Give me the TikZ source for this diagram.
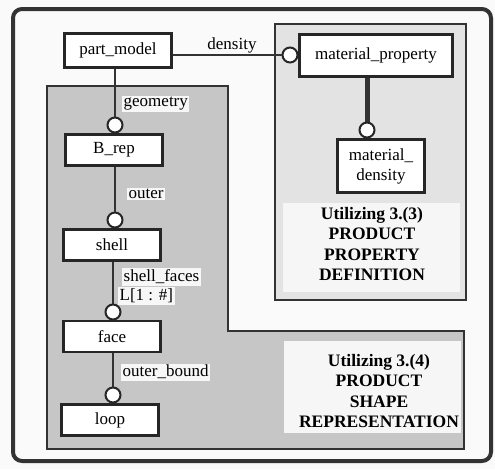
\documentclass[tikz,border=0pt]{standalone}
\usepackage{fontspec}
\setmainfont{Liberation Serif}

\tikzset{
  entity/.style={draw=black!85, line width=2.8pt, fill=white, minimum width=97pt,
                 minimum height=31pt, inner sep=0pt, font=\fontsize{17}{20}\selectfont},
  ring/.style={circle, draw=black!85, line width=2pt, fill=white, minimum size=15pt, inner sep=0pt},
  link/.style={draw=black!80, line width=2pt},
  role/.style={fill=gray!6, inner sep=1.5pt, anchor=west, font=\fontsize{17}{20}\selectfont},
  title/.style={align=center, font=\bfseries\fontsize{17.5}{20.5}\selectfont},
}

\begin{document}
\begin{tikzpicture}[x=1pt,y=-1pt]

%\draw[help lines,step=10] (0,0) grid (495,469);
\useasboundingbox (0,0) rectangle (495,469);
\fill[gray!4] (0,0) rectangle (495,469);

\draw[line width=4pt, black!80, rounded corners=9pt] (13,9) rectangle (491,461);

% product property definition
\filldraw[fill=gray!22, draw=black!80, line width=1.6pt] (275,24) rectangle (466,300);
\fill[gray!7] (283,203) rectangle (460,292);

% product shape representation
\filldraw[fill=gray!45, draw=black!80, line width=1.6pt] (47,86) -- (228,86) -- (228,331)
              -- (464,331) -- (464,449) -- (47,449) -- cycle;
\fill[gray!7] (284,341) rectangle (461,433);

\node[ring] (rdens) at (290,55) {};
\node[ring] (rmatdens) at (367,130) {};
\node[ring] (rbrep) at (115,125) {};
\node[ring] (rshell) at (115,220) {};
\node[ring] (rface) at (113,312) {};
\node[ring] (rloop) at (113,395) {};

\node[entity, minimum width=107pt, minimum height=34pt] (partmodel) at (118,50.5) {part\_model};
\node[entity, minimum width=153pt, minimum height=42pt] (matprop) at (376,55.5) {material\_property};
\node[entity, minimum width=87pt, minimum height=53pt, align=center] (matdens) at (381,166) {material\_\\density};
\node[entity] (brep) at (114,150) {B\_rep};
\node[entity] (shell) at (112,245) {shell};
\node[entity] (face) at (112,336.5) {face};
\node[entity] (loop) at (110,420) {loop};

\draw[link, line width=1.4pt] (partmodel.east |- rdens) -- (rdens.west);
\draw[link] (partmodel.south -| rbrep) -- (rbrep.north);
\draw[link] (brep.south -| rshell) -- (rshell.north);
\draw[link] (shell.south -| rface) -- (rface.north);
\draw[link] (face.south -| rloop) -- (rloop.north);
\draw[link, line width=5pt] (matprop.south -| rmatdens) -- (rmatdens.north);

\node[font=\fontsize{17}{20}\selectfont] (ldens) at (232,45) {density};
\node[role] (lgeom) at (122,104) {geometry};
\node[role] (louter) at (127,194) {outer};
\node[role] (lfaces) at (122,277) {shell\_faces};
\node[role] (lcard) at (118,296) {L[1 : \#]};
\node[role] (lbound) at (121,372) {outer\_bound};

\node[title] (tprop) at (372,244) {Utilizing 3.(3)\\PRODUCT\\PROPERTY\\DEFINITION};
\node[title] (tshape) at (379,391) {Utilizing 3.(4)\\PRODUCT\\SHAPE\\REPRESENTATION};

\end{tikzpicture}
\end{document}
